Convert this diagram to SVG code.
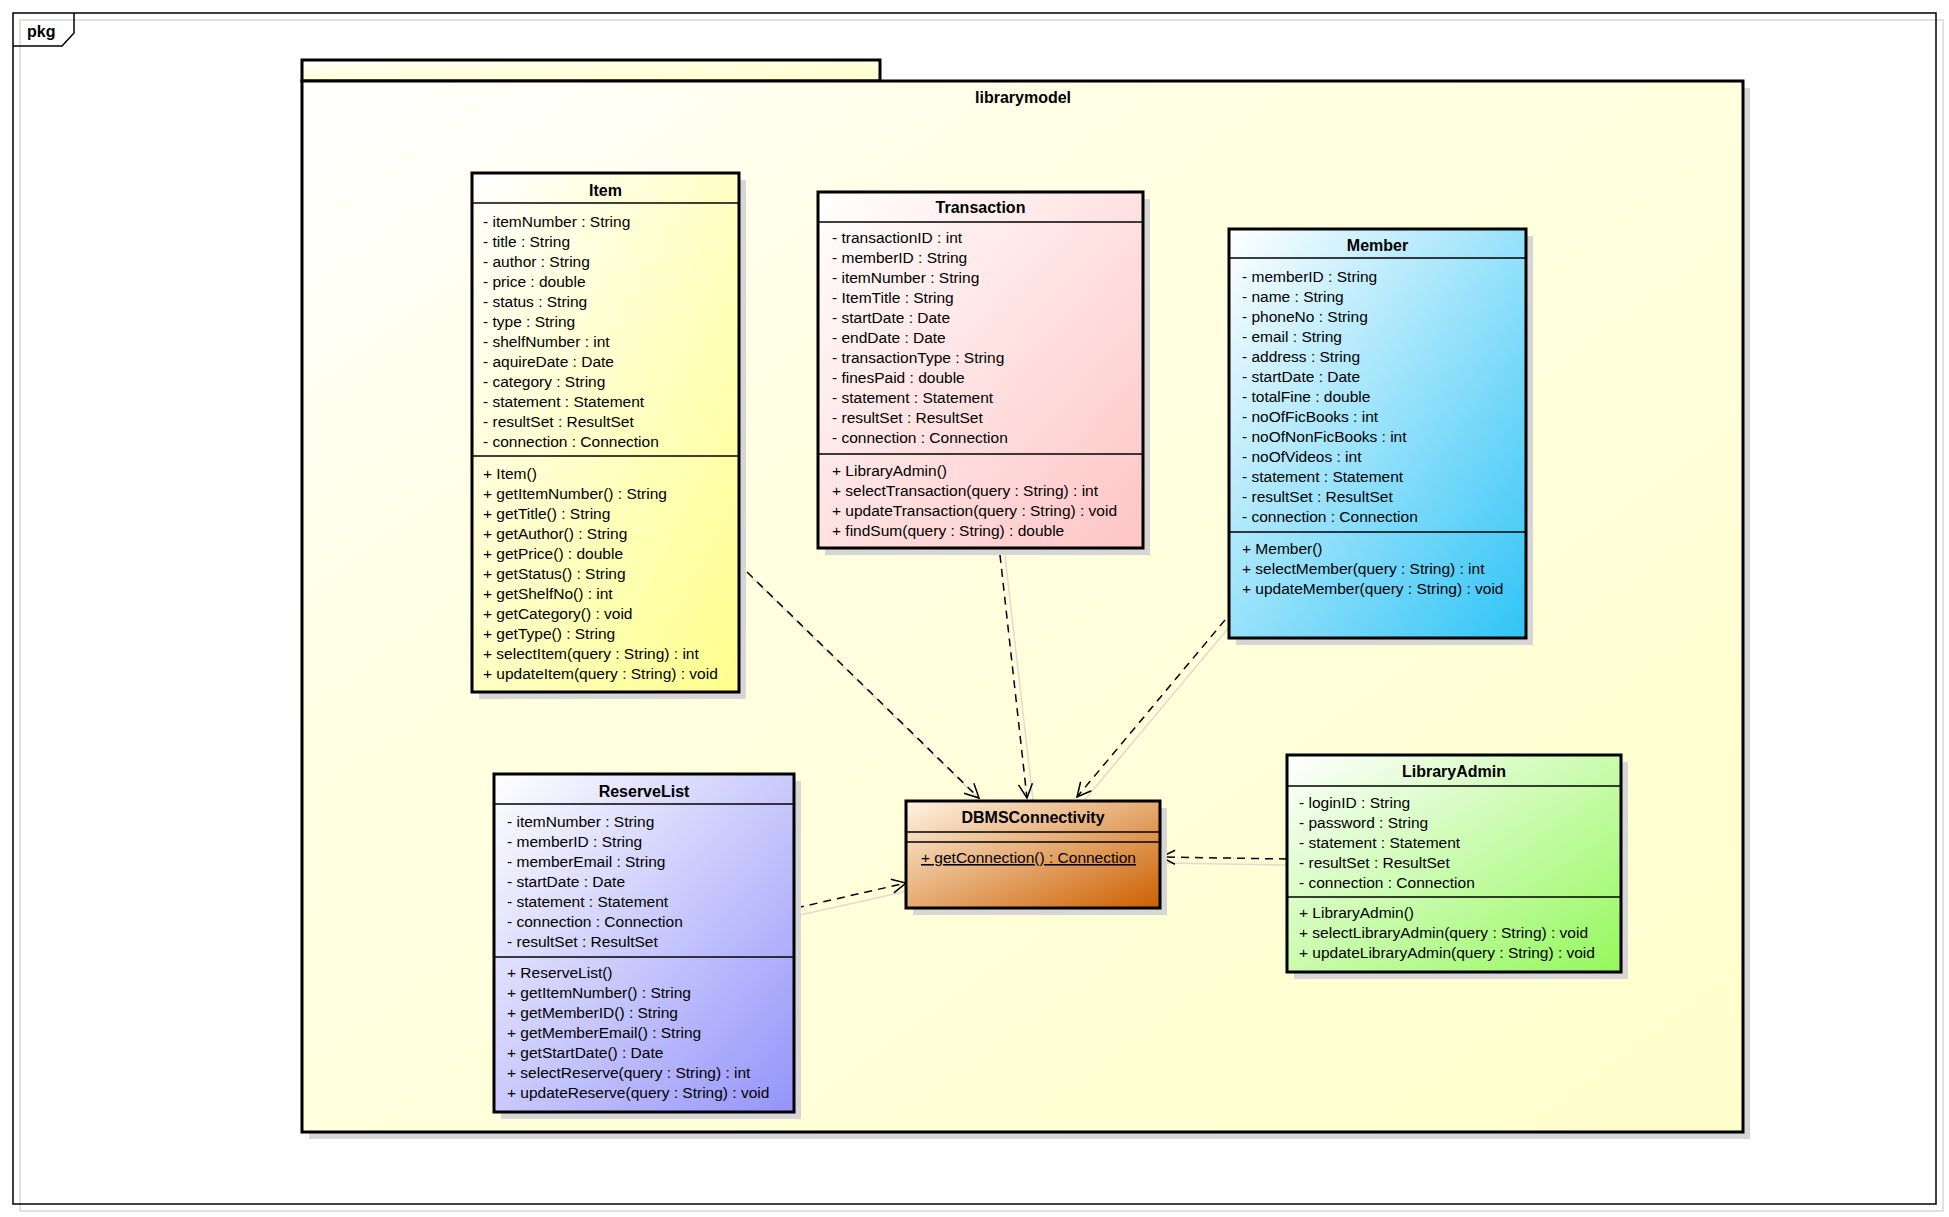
<svg xmlns="http://www.w3.org/2000/svg" width="1949" height="1217" viewBox="0 0 1949 1217">
  <defs>
    <style>
      text { font-family: "Liberation Sans", Arial, sans-serif; font-size: 15.5px; fill: #000; }
      .title { font-weight: bold; text-anchor: middle; font-size: 16px; }
      .box { stroke: #000; stroke-width: 3; }
      .sep { stroke: #000; stroke-width: 1.5; }
      .shadow { fill: #d6d6d6; }
      .dep { fill: none; stroke: #000; stroke-width: 1.5; stroke-dasharray: 8 6; marker-end: url(#open); }
      .depShadow { fill: none; stroke: #dcdcd0; stroke-width: 1.5; }
    </style>
    <marker id="open" viewBox="0 0 16 16" refX="15" refY="8" markerWidth="16" markerHeight="16" markerUnits="userSpaceOnUse" orient="auto">
      <path d="M1,1 L15,8 L1,15" fill="none" stroke="#000" stroke-width="1.5"/>
    </marker>
    <linearGradient id="gPkg" x1="0" y1="0" x2="1" y2="1">
      <stop offset="0" stop-color="#ffffff"/>
      <stop offset="0.3" stop-color="#ffffe4"/>
      <stop offset="1" stop-color="#ffffcc"/>
    </linearGradient>
    <linearGradient id="gItem" x1="0" y1="0" x2="1" y2="1">
      <stop offset="0" stop-color="#ffffff"/>
      <stop offset="1" stop-color="#ffff8c"/>
    </linearGradient>
    <linearGradient id="gTrans" x1="0" y1="0" x2="1" y2="1">
      <stop offset="0" stop-color="#ffffff"/>
      <stop offset="1" stop-color="#ffc4c4"/>
    </linearGradient>
    <linearGradient id="gMember" x1="0" y1="0" x2="1" y2="1">
      <stop offset="0" stop-color="#ffffff"/>
      <stop offset="1" stop-color="#30c4f6"/>
    </linearGradient>
    <linearGradient id="gReserve" x1="0" y1="0" x2="1" y2="1">
      <stop offset="0" stop-color="#ffffff"/>
      <stop offset="1" stop-color="#9494fa"/>
    </linearGradient>
    <linearGradient id="gDbms" x1="0" y1="0" x2="1" y2="1">
      <stop offset="0" stop-color="#fff4e4"/>
      <stop offset="1" stop-color="#cc6000"/>
    </linearGradient>
    <linearGradient id="gAdmin" x1="0" y1="0" x2="1" y2="1">
      <stop offset="0" stop-color="#ffffff"/>
      <stop offset="1" stop-color="#94f85c"/>
    </linearGradient>
  </defs>

  <rect width="1949" height="1217" fill="#ffffff"/>

  <!-- outer pkg frame -->
  <g id="frame">
    <rect x="20" y="20" width="1923" height="1191" fill="none" stroke="#d8d8d8" stroke-width="1.5"/>
    <rect x="13" y="13" width="1923" height="1191" fill="none" stroke="#000" stroke-width="1.5"/>
    <path d="M13,46 L62,46 L74,33 L74,13" fill="none" stroke="#000" stroke-width="1.5"/>
    <text x="27" y="37" style="font-weight:bold;font-size:16px">pkg</text>
  </g>

  <!-- package librarymodel -->
  <g id="librarymodel">
    <rect class="shadow" x="309" y="88" width="1441" height="1051"/>
    <rect x="302" y="60" width="578" height="21" fill="url(#gPkg)" class="box"/>
    <rect x="302" y="81" width="1441" height="1051" fill="url(#gPkg)" class="box"/>
    <text class="title" x="1023" y="103">librarymodel</text>
  </g>

  <!-- dependencies -->
  <g id="connectors">
    <line class="depShadow" x1="752" y1="578" x2="984" y2="804"/>
    <line class="depShadow" x1="1005" y1="556" x2="1033" y2="800"/>
    <line class="depShadow" x1="1230" y1="626" x2="1083" y2="802"/>
    <line class="depShadow" x1="800" y1="915" x2="912" y2="890"/>
    <line class="depShadow" x1="1287" y1="865" x2="1164" y2="863"/>
    <line class="dep" x1="747" y1="572" x2="979" y2="798"/>
    <line class="dep" x1="1000" y1="555" x2="1027" y2="798"/>
    <line class="dep" x1="1225" y1="620" x2="1077" y2="797"/>
    <line class="dep" x1="796" y1="908" x2="906" y2="883"/>
    <line class="dep" x1="1287" y1="859" x2="1161" y2="857"/>
  </g>

  <!-- Item -->
  <g id="Item">
    <rect class="shadow" x="479" y="180" width="267" height="519"/>
    <rect class="box" x="472" y="173" width="267" height="519" fill="url(#gItem)"/>
    <line class="sep" x1="472" y1="203" x2="739" y2="203"/>
    <line class="sep" x1="472" y1="456" x2="739" y2="456"/>
    <text class="title" x="605.5" y="196">Item</text>
    <text x="483" y="227">- itemNumber : String</text>
    <text x="483" y="247">- title : String</text>
    <text x="483" y="267">- author : String</text>
    <text x="483" y="287">- price : double</text>
    <text x="483" y="307">- status : String</text>
    <text x="483" y="327">- type : String</text>
    <text x="483" y="347">- shelfNumber : int</text>
    <text x="483" y="367">- aquireDate : Date</text>
    <text x="483" y="387">- category : String</text>
    <text x="483" y="407">- statement : Statement</text>
    <text x="483" y="427">- resultSet : ResultSet</text>
    <text x="483" y="447">- connection : Connection</text>
    <text x="483" y="479">+ Item()</text>
    <text x="483" y="499">+ getItemNumber() : String</text>
    <text x="483" y="519">+ getTitle() : String</text>
    <text x="483" y="539">+ getAuthor() : String</text>
    <text x="483" y="559">+ getPrice() : double</text>
    <text x="483" y="579">+ getStatus() : String</text>
    <text x="483" y="599">+ getShelfNo() : int</text>
    <text x="483" y="619">+ getCategory() : void</text>
    <text x="483" y="639">+ getType() : String</text>
    <text x="483" y="659">+ selectItem(query : String) : int</text>
    <text x="483" y="679">+ updateItem(query : String) : void</text>
  </g>

  <!-- Transaction -->
  <g id="Transaction">
    <rect class="shadow" x="825" y="199" width="325" height="356"/>
    <rect class="box" x="818" y="192" width="325" height="356" fill="url(#gTrans)"/>
    <line class="sep" x1="818" y1="222" x2="1143" y2="222"/>
    <line class="sep" x1="818" y1="454" x2="1143" y2="454"/>
    <text class="title" x="980.5" y="213">Transaction</text>
    <text x="832" y="243">- transactionID : int</text>
    <text x="832" y="263">- memberID : String</text>
    <text x="832" y="283">- itemNumber : String</text>
    <text x="832" y="303">- ItemTitle : String</text>
    <text x="832" y="323">- startDate : Date</text>
    <text x="832" y="343">- endDate : Date</text>
    <text x="832" y="363">- transactionType : String</text>
    <text x="832" y="383">- finesPaid : double</text>
    <text x="832" y="403">- statement : Statement</text>
    <text x="832" y="423">- resultSet : ResultSet</text>
    <text x="832" y="443">- connection : Connection</text>
    <text x="832" y="476">+ LibraryAdmin()</text>
    <text x="832" y="496">+ selectTransaction(query : String) : int</text>
    <text x="832" y="516">+ updateTransaction(query : String) : void</text>
    <text x="832" y="536">+ findSum(query : String) : double</text>
  </g>

  <!-- Member -->
  <g id="Member">
    <rect class="shadow" x="1236" y="236" width="297" height="409"/>
    <rect class="box" x="1229" y="229" width="297" height="409" fill="url(#gMember)"/>
    <line class="sep" x1="1229" y1="258" x2="1526" y2="258"/>
    <line class="sep" x1="1229" y1="532" x2="1526" y2="532"/>
    <text class="title" x="1377.5" y="251">Member</text>
    <text x="1242" y="282">- memberID : String</text>
    <text x="1242" y="302">- name : String</text>
    <text x="1242" y="322">- phoneNo : String</text>
    <text x="1242" y="342">- email : String</text>
    <text x="1242" y="362">- address : String</text>
    <text x="1242" y="382">- startDate : Date</text>
    <text x="1242" y="402">- totalFine : double</text>
    <text x="1242" y="422">- noOfFicBooks : int</text>
    <text x="1242" y="442">- noOfNonFicBooks : int</text>
    <text x="1242" y="462">- noOfVideos : int</text>
    <text x="1242" y="482">- statement : Statement</text>
    <text x="1242" y="502">- resultSet : ResultSet</text>
    <text x="1242" y="522">- connection : Connection</text>
    <text x="1242" y="554">+ Member()</text>
    <text x="1242" y="574">+ selectMember(query : String) : int</text>
    <text x="1242" y="594">+ updateMember(query : String) : void</text>
  </g>

  <!-- ReserveList -->
  <g id="ReserveList">
    <rect class="shadow" x="501" y="781" width="300" height="338"/>
    <rect class="box" x="494" y="774" width="300" height="338" fill="url(#gReserve)"/>
    <line class="sep" x1="494" y1="804" x2="794" y2="804"/>
    <line class="sep" x1="494" y1="957" x2="794" y2="957"/>
    <text class="title" x="644" y="797">ReserveList</text>
    <text x="507" y="827">- itemNumber : String</text>
    <text x="507" y="847">- memberID : String</text>
    <text x="507" y="867">- memberEmail : String</text>
    <text x="507" y="887">- startDate : Date</text>
    <text x="507" y="907">- statement : Statement</text>
    <text x="507" y="927">- connection : Connection</text>
    <text x="507" y="947">- resultSet : ResultSet</text>
    <text x="507" y="978">+ ReserveList()</text>
    <text x="507" y="998">+ getItemNumber() : String</text>
    <text x="507" y="1018">+ getMemberID() : String</text>
    <text x="507" y="1038">+ getMemberEmail() : String</text>
    <text x="507" y="1058">+ getStartDate() : Date</text>
    <text x="507" y="1078">+ selectReserve(query : String) : int</text>
    <text x="507" y="1098">+ updateReserve(query : String) : void</text>
  </g>

  <!-- DBMSConnectivity -->
  <g id="DBMSConnectivity">
    <rect class="shadow" x="913" y="808" width="254" height="107"/>
    <rect class="box" x="906" y="801" width="254" height="107" fill="url(#gDbms)"/>
    <line class="sep" x1="906" y1="832" x2="1160" y2="832"/>
    <line class="sep" x1="906" y1="842" x2="1160" y2="842"/>
    <text class="title" x="1033" y="823">DBMSConnectivity</text>
    <text x="921" y="863" text-decoration="underline">+ getConnection() : Connection</text>
  </g>

  <!-- LibraryAdmin -->
  <g id="LibraryAdmin">
    <rect class="shadow" x="1294" y="762" width="334" height="217"/>
    <rect class="box" x="1287" y="755" width="334" height="217" fill="url(#gAdmin)"/>
    <line class="sep" x1="1287" y1="786" x2="1621" y2="786"/>
    <line class="sep" x1="1287" y1="897" x2="1621" y2="897"/>
    <text class="title" x="1454" y="777">LibraryAdmin</text>
    <text x="1299" y="808">- loginID : String</text>
    <text x="1299" y="828">- password : String</text>
    <text x="1299" y="848">- statement : Statement</text>
    <text x="1299" y="868">- resultSet : ResultSet</text>
    <text x="1299" y="888">- connection : Connection</text>
    <text x="1299" y="918">+ LibraryAdmin()</text>
    <text x="1299" y="938">+ selectLibraryAdmin(query : String) : void</text>
    <text x="1299" y="958">+ updateLibraryAdmin(query : String) : void</text>
  </g>
</svg>
